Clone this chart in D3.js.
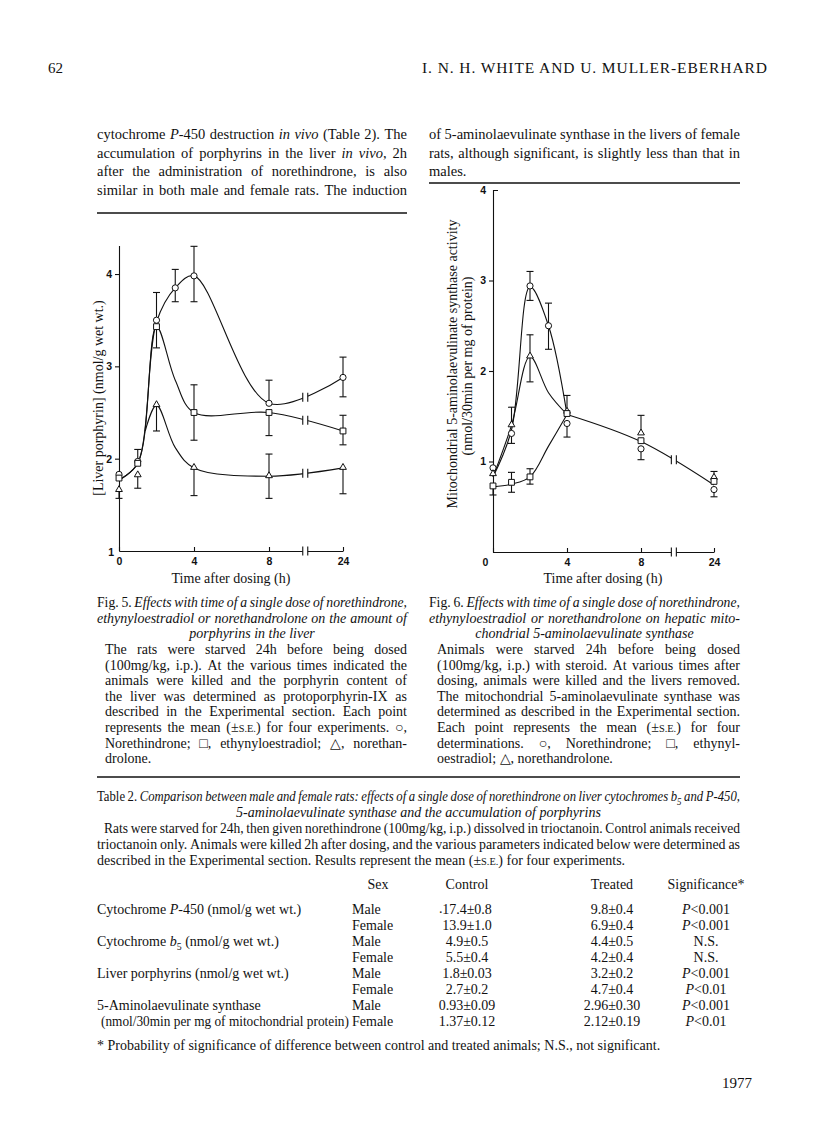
<!DOCTYPE html>
<html><head><meta charset="utf-8">
<script src="https://cdn.jsdelivr.net/npm/d3@7/dist/d3.min.js"></script>
<style>html,body{margin:0;padding:0;background:#fff}svg{display:block}</style>
</head><body>
<svg id="page" width="816" height="1136"></svg>
<script>
// ================= DATA =================
// Fig. 5 : liver porphyrin (nmol/g wet wt.) vs time after dosing (h)
const fig5TimesCircle = [0, 1, 2, 3, 4, 8, 24];
const fig5NorethindroneVal = [1.83, 1.97, 3.50, 3.85, 3.98, 2.60, 2.88];
const fig5NorethindroneUp  = [0, 0.13, 0.30, 0.20, 0.32, 0.25, 0.22];
const fig5NorethindroneLo  = [0, 0, 0, 0.15, 0.28, 0, 0.21];
const fig5TimesOther = [0, 1, 2, 4, 8, 24];
const fig5EthynyloestradiolVal = [1.79, 1.95, 3.43, 2.50, 2.50, 2.30];
const fig5EthynyloestradiolUp  = [0, 0, 0, 0.30, 0, 0.17];
const fig5EthynyloestradiolLo  = [0, 0, 0.23, 0.30, 0.25, 0.15];
const fig5NorethandroloneVal = [1.66, 1.82, 2.58, 1.90, 1.81, 1.90];
const fig5NorethandroloneUp  = [0, 0, 0, 0, 0.24, 0];
const fig5NorethandroloneLo  = [0.09, 0.14, 0.28, 0.30, 0.24, 0.28];
// hand-drawn smooth curves: [time, value]
const fig5CurveNorethindrone = [[0,1.77],[1,1.95],[2,3.48],[3,3.85],[4,3.98],[8,2.60],[24,2.88]];
const fig5CurveEthynyloestradiol = [[0,1.77],[1,1.95],[2,3.43],[3,2.85],[4,2.50],[8,2.50],[24,2.30]];
const fig5CurveNorethandrolone = [[1.4,2.30],[2,2.58],[3,2.12],[4,1.90],[8,1.81],[24,1.90]];
const fig5YTicks = [1, 2, 3, 4];
const fig5XTicks = [0, 4, 8, 24];

// Fig. 6 : mitochondrial 5-aminolaevulinate synthase activity
const fig6TimesCircle = [0, 1, 2, 3, 4, 8, 24];
const fig6NorethindroneVal = [0.93, 1.31, 2.94, 2.50, 1.42, 1.14, 0.69];
const fig6NorethindroneUp  = [0, 0, 0.16, 0.25, 0, 0, 0];
const fig6NorethindroneLo  = [0, 0.11, 0.16, 0.26, 0.15, 0.12, 0.08];
const fig6TimesOther = [0, 1, 2, 4, 8, 24];
const fig6EthynyloestradiolVal = [0.73, 0.77, 0.83, 1.53, 1.23, 0.78];
const fig6EthynyloestradiolUp  = [0, 0.11, 0.09, 0.20, 0, 0];
const fig6EthynyloestradiolLo  = [0.10, 0.11, 0.08, 0, 0, 0];
const fig6NorethandroloneVal = [0.86, 1.40, 2.16, 1.55, 1.31, 0.82];
const fig6NorethandroloneUp  = [0, 0.20, 0.24, 0, 0.20, 0.07];
const fig6NorethandroloneLo  = [0, 0, 0.28, 0, 0, 0];
const fig6CurveNorethindrone = [[0,0.83],[1,1.35],[2,2.93],[3,2.50],[4,1.52]];
const fig6CurveNorethandrolone = [[0,0.83],[1,1.40],[2,2.16],[3,1.76],[4,1.52]];
const fig6CurveEthynyloestradiol = [[0,0.72],[1,0.75],[2,0.83],[3,1.17],[4,1.52]];
const fig6CurveCommonDecline = [[4,1.52],[8,1.22],[24,0.74]];
const fig6YTicks = [1, 2, 3, 4];
const fig6XTicks = [0, 4, 8, 24];

// Table 2
const tableHeader = ["Sex", "Control", "Treated", "Significance*"];
const tableParams = ["Cytochrome _P_-450 (nmol/g wet wt.)", "", "Cytochrome _b_~5~ (nmol/g wet wt.)", "",
  "Liver porphyrins (nmol/g wet wt.)", "", "5-Aminolaevulinate synthase", "(nmol/30min per mg of mitochondrial protein)"];
const tableSex = ["Male", "Female", "Male", "Female", "Male", "Female", "Male", "Female"];
const tableControl = ["17.4±0.8", "13.9±1.0", "4.9±0.5", "5.5±0.4", "1.8±0.03", "2.7±0.2", "0.93±0.09", "1.37±0.12"];
const tableTreated = ["9.8±0.4", "6.9±0.4", "4.4±0.5", "4.2±0.4", "3.2±0.2", "4.7±0.4", "2.96±0.30", "2.12±0.19"];
const tableSignif = ["_P_<0.001", "_P_<0.001", "N.S.", "N.S.", "_P_<0.001", "_P_<0.01", "_P_<0.001", "_P_<0.01"];

// Running text  (_italic_, ~subscript~, ^small caps^)
const leftParagraph = [
  "cytochrome _P_-450 destruction _in vivo_ (Table 2). The",
  "accumulation of porphyrins in the liver _in vivo_, 2h",
  "after the administration of norethindrone, is also",
  "similar in both male and female rats. The induction"];
const rightParagraph = [
  "of 5-aminolaevulinate synthase in the livers of female",
  "rats, although significant, is slightly less than that in",
  "males."];
const fig5CaptionTitle = [
  "Fig. 5. _Effects with time of a single dose of norethindrone,_",
  "_ethynyloestradiol or norethandrolone on the amount of_",
  "_porphyrins in the liver_"];
const fig5CaptionBody = [
  "The rats were starved 24h before being dosed",
  "(100mg/kg, i.p.). At the various times indicated the",
  "animals were killed and the porphyrin content of",
  "the liver was determined as protoporphyrin-IX as",
  "described in the Experimental section. Each point",
  "represents the mean (±^s.e.^) for four experiments. ○,",
  "Norethindrone; □, ethynyloestradiol; △, norethan-",
  "drolone."];
const fig6CaptionTitle = [
  "Fig. 6. _Effects with time of a single dose of norethindrone,_",
  "_ethynyloestradiol or norethandrolone on hepatic mito-_",
  "_chondrial 5-aminolaevulinate synthase_"];
const fig6CaptionBody = [
  "Animals were starved 24h before being dosed",
  "(100mg/kg, i.p.) with steroid. At various times after",
  "dosing, animals were killed and the livers removed.",
  "The mitochondrial 5-aminolaevulinate synthase was",
  "determined as described in the Experimental section.",
  "Each point represents the mean (±^s.e.^) for four",
  "determinations. ○, Norethindrone; □, ethynyl-",
  "oestradiol; △, norethandrolone."];
const tableTitle = [
  "Table 2. _Comparison between male and female rats: effects of a single dose of norethindrone on liver cytochromes b~5~ and P-450,_",
  "_5-aminolaevulinate synthase and the accumulation of porphyrins_"];
const tableIntro = [
  "Rats were starved for 24h, then given norethindrone (100mg/kg, i.p.) dissolved in trioctanoin. Control animals received",
  "trioctanoin only. Animals were killed 2h after dosing, and the various parameters indicated below were determined as",
  "described in the Experimental section. Results represent the mean (±^s.e.^) for four experiments."];
const tableFootnote = "* Probability of significance of difference between control and treated animals; N.S., not significant.";

// ================= RENDER =================
const SERIF = "'Liberation Serif','Times New Roman',serif";
const SANS = "'Liberation Sans',Arial,sans-serif";
const INK = "#111";
const page = d3.select('#page');
page.append('rect').attr('width', 816).attr('height', 1136).attr('fill', '#fff');

function parseMarkup(str) {
  const segs = []; let cur = '', it = false, sub = false, sc = false;
  for (const ch of str) {
    if (ch === '_' || ch === '~' || ch === '^') {
      if (cur) segs.push({text: cur, it, sub, sc});
      cur = '';
      if (ch === '_') it = !it; else if (ch === '~') sub = !sub; else sc = !sc;
    } else cur += ch;
  }
  if (cur) segs.push({text: cur, it, sub, sc});
  return segs;
}
function toWords(str) {
  const words = [[]];
  parseMarkup(str).forEach(s => {
    s.text.split(' ').forEach((p, i) => {
      if (i > 0) words.push([]);
      if (p) words[words.length - 1].push(Object.assign({}, s, {text: p}));
    });
  });
  return words.filter(w => w.length);
}
function addSegs(t, segs, fs) {
  let shifted = false;
  segs.forEach(s => {
    const ts = t.append('tspan').text(s.sc ? s.text.toUpperCase() : s.text);
    if (s.it) ts.attr('font-style', 'italic');
    if (s.sc) ts.attr('font-size', fs * 0.74);
    if (s.sub) { ts.attr('font-size', fs * 0.7); if (!shifted) { ts.attr('dy', fs * 0.28); shifted = true; } }
    else if (shifted) { ts.attr('dy', -fs * 0.28); shifted = false; }
  });
}
// draws one line of text; when it does not fit, it is condensed horizontally
function drawLine(str, x, y, w, align, fs, opt = {}) {
  const words = toWords(str);
  const g = page.append('g');
  const nodes = words.map(wd => {
    const t = g.append('text').attr('y', y).attr('font-size', fs)
      .attr('font-family', opt.family || SERIF).attr('fill', INK);
    addSegs(t, wd, fs); return t;
  });
  const widths = nodes.map(n => n.node().getComputedTextLength());
  const sum = d3.sum(widths);
  const n = words.length;
  const minGap = (align === 'justify' ? 0.2 : 0.25) * fs;
  let f = 1;
  if (sum + minGap * (n - 1) > w) f = w / (sum + minGap * (n - 1));
  const W = w / f;              // width in unscaled space
  let gap = 0.25 * fs, start = 0;
  if (align === 'justify' && n > 1) gap = (W - sum) / (n - 1);
  else {
    const total = sum + gap * (n - 1);
    if (align === 'center') start = (W - total) / 2;
    else if (align === 'right') start = W - total;
  }
  let cx = start;
  nodes.forEach((nd, i) => { nd.attr('x', cx); cx += widths[i] + gap; });
  g.attr('transform', `translate(${x},0) scale(${f},1)`);
}
function rule(x1, x2, y, sw) {
  page.append('line').attr('x1', x1).attr('x2', x2).attr('y1', y).attr('y2', y)
    .attr('stroke', INK).attr('stroke-width', sw || 1.4);
}

// ---- running heads ----
drawLine("62", 48, 73, 20, 'left', 15);
page.append('text').attr('x', 422).attr('y', 73).attr('font-family', SERIF).attr('font-size', 15.5)
  .attr('fill', INK).attr('textLength', 345).attr('lengthAdjust', 'spacing')
  .text("I. N. H. WHITE AND U. MULLER-EBERHARD");
drawLine("1977", 716, 1088, 36, 'right', 15);

// ---- paragraphs ----
leftParagraph.forEach((s, i) => drawLine(s, 97, 139 + i * 18.7, 310, 'justify', 14.5));
rightParagraph.forEach((s, i) => drawLine(s, 429, 139 + i * 18.7, 311, i < 2 ? 'justify' : 'left', 14.5));
rule(97, 407, 213);
rule(429, 740, 183);

// ---- captions ----
function caption(title, body, x, w) {
  drawLine(title[0], x, 607, w, 'justify', 14);
  drawLine(title[1], x, 622.5, w, 'justify', 14);
  drawLine(title[2], x, 638, w, 'center', 14);
  body.forEach((s, i) => drawLine(s, x + 8, 654 + i * 15.6, w - 8, i < body.length - 1 ? 'justify' : 'left', 14));
}
caption(fig5CaptionTitle, fig5CaptionBody, 97, 310);
caption(fig6CaptionTitle, fig6CaptionBody, 429, 311);
rule(97, 740, 777, 1.6);

// ---- table ----
drawLine(tableTitle[0], 97, 801, 643, 'justify', 14);
drawLine(tableTitle[1], 97, 816.5, 643, 'center', 14);
tableIntro.forEach((s, i) => drawLine(s, i === 0 ? 104 : 97, 833 + i * 16, i === 0 ? 636 : 643, i < 2 ? 'justify' : 'left', 14));
const colCenters = [378, 467, 612, 706];
tableHeader.forEach((h, i) => drawLine(h, colCenters[i] - 60, 889, 120, 'center', 14));
tableParams.forEach((p, i) => {
  const y = 914 + i * 16;
  if (p) drawLine(p, i === 7 ? 101 : 97, y, i === 7 ? 248 : 252, 'left', 14);
  drawLine(tableSex[i], 352, y, 60, 'left', 14);
  drawLine(tableControl[i], colCenters[1] - 60, y, 120, 'center', 14);
  drawLine(tableTreated[i], colCenters[2] - 60, y, 120, 'center', 14);
  drawLine(tableSignif[i], colCenters[3] - 60, y, 120, 'center', 14);
});
drawLine(".", 439, 913, 5, 'left', 14);
drawLine(tableFootnote, 97, 1050, 640, 'left', 14);

// ---- figures ----
function drawFigure(cfg) {
  const g = page.append('g');
  const x = d3.scaleLinear().domain([0, 8, 24]).range(cfg.xRange);
  const y = d3.scaleLinear().domain(cfg.yDomain).range(cfg.yRange);
  const x0 = cfg.xRange[0], y0 = cfg.yRange[0];
  const xa = g.append('g').attr('transform', `translate(0,${y0})`)
    .call(d3.axisBottom(x).tickValues(cfg.xTicks).tickSizeInner(-4).tickSizeOuter(0).tickPadding(7).tickFormat(d3.format('d')));
  const ya = g.append('g').attr('transform', `translate(${x0},0)`)
    .call(d3.axisLeft(y).tickValues(cfg.yTicks).tickSizeInner(4).tickSizeOuter(cfg.outer).tickPadding(3).tickFormat(d3.format('d')));
  [xa, ya].forEach(a => {
    a.selectAll('path,line').attr('stroke', INK).attr('stroke-width', 1.1);
    a.selectAll('text').attr('font-family', SANS).attr('font-weight', 'bold').attr('font-size', 10.5).attr('fill', INK);
  });
  cfg.fixAxes(xa, ya);
  const bx = x(8) + cfg.breakFrac * (x(24) - x(8));
  function breakMark(cx, cy) {
    g.append('rect').attr('x', cx - 2.5).attr('y', cy - 3).attr('width', 5).attr('height', 6).attr('fill', '#fff');
    [-2.5, 2.5].forEach(d => g.append('line').attr('x1', cx + d).attr('x2', cx + d)
      .attr('y1', cy - 4.5).attr('y2', cy + 4.5).attr('stroke', INK).attr('stroke-width', 1.1));
  }
  breakMark(bx, y0);
  const lineGen = d3.line().x(d => x(d[0])).y(d => y(d[1])).curve(d3.curveCatmullRom.alpha(0.5));
  cfg.curves.forEach(c => {
    const p = g.append('path').datum(c).attr('d', lineGen).attr('fill', 'none')
      .attr('stroke', INK).attr('stroke-width', 1.1);
    if (c[c.length - 1][0] === 24) {
      const node = p.node(), L = node.getTotalLength();
      let lo = 0, hi = L;
      for (let k = 0; k < 40; k++) { const m = (lo + hi) / 2; if (node.getPointAtLength(m).x < bx) lo = m; else hi = m; }
      breakMark(bx, node.getPointAtLength(lo).y);
    }
  });
  const cap = 3.5;
  cfg.series.forEach(s => {
    s.times.forEach((t, i) => {
      const v = s.val[i];
      [[s.up[i], 1], [s.lo[i], -1]].forEach(([e, sgn]) => {
        if (!e) return;
        const ye = y(v + sgn * e);
        g.append('line').attr('x1', x(t)).attr('x2', x(t)).attr('y1', y(v)).attr('y2', ye).attr('stroke', INK).attr('stroke-width', 1.1);
        g.append('line').attr('x1', x(t) - cap).attr('x2', x(t) + cap).attr('y1', ye).attr('y2', ye).attr('stroke', INK).attr('stroke-width', 1.1);
      });
    });
  });
  cfg.series.forEach(s => {
    const sym = d3.symbol().type(s.type).size(s.size);
    s.times.forEach((t, i) => {
      g.append('path').attr('d', sym()).attr('transform', `translate(${x(t)},${y(s.val[i]) + (s.dy || 0)})`)
        .attr('fill', '#fff').attr('stroke', INK).attr('stroke-width', 1);
    });
  });
  drawLine("Time after dosing (h)", cfg.xTitleX - 80, 583, 160, 'center', 14);
  cfg.yTitles.forEach(tt => {
    const gg = page.append('g').attr('transform', `translate(${tt.x},${tt.y}) rotate(-90)`);
    gg.append('text').attr('x', 0).attr('y', 0).attr('text-anchor', 'middle').attr('font-family', SERIF)
      .attr('font-size', tt.fs).attr('fill', INK).text(tt.text);
  });
}

drawFigure({
  xRange: [119, 269, 343], yDomain: [1, 4.31], yRange: [551, 245.4],
  xTicks: fig5XTicks, yTicks: fig5YTicks, outer: 0, breakFrac: 0.49,
  fixAxes: (xa, ya) => {
    ya.selectAll('.tick').filter(d => d === 1).select('line').remove();
    ya.selectAll('.tick').filter(d => d === 1).select('text').attr('dy', '0.45em').attr('x', -5);
  },
  curves: [fig5CurveNorethindrone, fig5CurveEthynyloestradiol, fig5CurveNorethandrolone],
  series: [
    {times: fig5TimesOther, val: fig5NorethandroloneVal, up: fig5NorethandroloneUp, lo: fig5NorethandroloneLo, type: d3.symbolTriangle, size: 20, dy: -0.5},
    {times: fig5TimesCircle, val: fig5NorethindroneVal, up: fig5NorethindroneUp, lo: fig5NorethindroneLo, type: d3.symbolCircle, size: 30},
    {times: fig5TimesOther, val: fig5EthynyloestradiolVal, up: fig5EthynyloestradiolUp, lo: fig5EthynyloestradiolLo, type: d3.symbolSquare, size: 34}
  ],
  xTitleX: 231,
  yTitles: [{text: "[Liver porphyrin] (nmol/g wet wt.)", x: 103, y: 398, fs: 14}]
});

drawFigure({
  xRange: [493, 641, 714], yDomain: [0, 4], yRange: [552, 190],
  xTicks: fig6XTicks, yTicks: fig6YTicks, outer: -5, breakFrac: 0.45,
  fixAxes: (xa, ya) => {
    ya.selectAll('.tick').filter(d => d === 4).select('line').remove();
    xa.selectAll('.tick').filter(d => d === 0).select('text').attr('x', -8);
  },
  curves: [fig6CurveNorethindrone, fig6CurveNorethandrolone, fig6CurveEthynyloestradiol, fig6CurveCommonDecline],
  series: [
    {times: fig6TimesCircle, val: fig6NorethindroneVal, up: fig6NorethindroneUp, lo: fig6NorethindroneLo, type: d3.symbolCircle, size: 30},
    {times: fig6TimesOther, val: fig6NorethandroloneVal, up: fig6NorethandroloneUp, lo: fig6NorethandroloneLo, type: d3.symbolTriangle, size: 20, dy: -0.5},
    {times: fig6TimesOther, val: fig6EthynyloestradiolVal, up: fig6EthynyloestradiolUp, lo: fig6EthynyloestradiolLo, type: d3.symbolSquare, size: 34}
  ],
  xTitleX: 603,
  yTitles: [
    {text: "Mitochondrial 5-aminolaevulinate synthase activity", x: 457, y: 364, fs: 14},
    {text: "(nmol/30min per mg of protein)", x: 472, y: 366, fs: 14}
  ]
});
</script>
</body></html>
